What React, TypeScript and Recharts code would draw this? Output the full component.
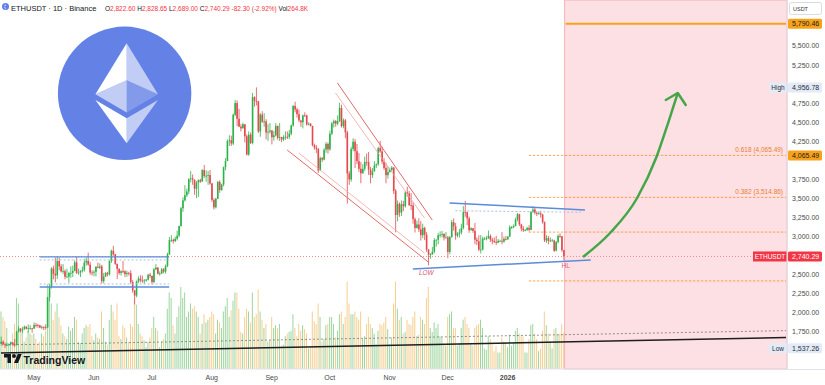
import React from 'react';
import {
  ComposedChart,
  Bar,
  Line,
  XAxis,
  YAxis,
  ReferenceLine,
  ReferenceArea,
  ReferenceDot,
  Cell,
} from 'recharts';

// daily candles, Apr 14 2025 -> Jan 30 2026 (open = previous close)
const FIRST_OPEN = 1595;

const closes = [
  // Apr
  1622, 1588, 1577, 1583, 1589, 1613, 1587, 1579, 1755, 1795, 1769, 1786, 1820, 1793, 1799, 1799, 1794,
  // May
  1842, 1840, 1835, 1808, 1816, 1815, 1810, 2205, 2345, 2582, 2514, 2492, 2680, 2610, 2545, 2548, 2474, 2476, 2523, 2525,
  2551, 2663, 2526, 2530, 2551, 2565, 2662, 2683, 2634, 2530, 2528,
  // Jun
  2539, 2605, 2593, 2610, 2417, 2478, 2525, 2508, 2680, 2815, 2770, 2643, 2578, 2524, 2547, 2546, 2510, 2525, 2520, 2406,
  2296, 2228, 2415, 2450, 2426, 2418, 2424, 2436, 2502, 2486,
  // Jul
  2405, 2572, 2595, 2514, 2518, 2572, 2542, 2614, 2770, 2955, 2958, 2942, 2972, 3014, 3140, 3372, 3476, 3543, 3592, 3755,
  3765, 3746, 3628, 3707, 3743, 3724, 3873, 3795, 3799, 3808, 3698,
  // Aug
  3482, 3385, 3497, 3717, 3612, 3684, 3910, 3992, 4255, 4264, 4222, 4598, 4752, 4545, 4442, 4420, 4474, 4316, 4076, 4337,
  4229, 4830, 4780, 4775, 4380, 4600, 4508, 4512, 4365, 4376, 4392,
  // Sep
  4305, 4328, 4450, 4296, 4306, 4273, 4306, 4310, 4308, 4350, 4458, 4714, 4668, 4605, 4525, 4500, 4590, 4589, 4470, 4480,
  4450, 4200, 4168, 4152, 3868, 4030, 4010, 4140, 4216, 4145,
  // Oct
  4350, 4485, 4515, 4482, 4515, 4688, 4450, 4525, 4368, 3830, 3750, 4150, 4245, 4120, 3990, 3890, 3830, 3890, 3980, 3978,
  3880, 3808, 3855, 3935, 3950, 4160, 4118, 3985, 3900, 3806, 3848,
  // Nov
  3875, 3905, 3600, 3285, 3430, 3315, 3425, 3400, 3580, 3565, 3415, 3410, 3230, 3115, 3160, 3095, 3020, 3115, 3025, 2830,
  2765, 2770, 2805, 2955, 2960, 3020, 3025, 3035, 2990, 2990,
  // Dec
  2800, 2995, 3190, 3135, 3015, 3040, 3055, 3115, 3325, 3320, 3240, 3085, 3110, 3075, 2960, 2940, 2830, 2830, 2975, 2975,
  2980, 3010, 2960, 2945, 2930, 2920, 2945, 2945, 2935, 2970, 2965,
  // Jan
  3000, 3125, 3125, 3140, 3225, 3295, 3160, 3105, 3085, 3085, 3115, 3090, 3325, 3355, 3315, 3300, 3305, 3290, 3190, 2950,
  2980, 2945, 2950, 2950, 2815, 2930, 3010, 3005, 2822.6, 2740.29,
];

const highs = [
  1690, 1640, 1612, 1610, 1602, 1625, 1615, 1660, 1765, 1830, 1800, 1815, 1835, 1825, 1850, 1840, 1805,
  1875, 1870, 1855, 1845, 1835, 1825, 1850, 2210, 2380, 2600, 2620, 2725, 2738, 2725, 2640, 2640, 2570, 2580, 2540, 2610,
  2620, 2690, 2735, 2580, 2560, 2610, 2710, 2725, 2790, 2670, 2560,
  2560, 2615, 2660, 2650, 2630, 2525, 2535, 2540, 2690, 2830, 2880, 2775, 2645, 2585, 2560, 2680, 2560, 2555, 2540, 2560,
  2430, 2295, 2425, 2480, 2495, 2490, 2445, 2445, 2510, 2525,
  2490, 2590, 2640, 2600, 2545, 2590, 2590, 2635, 2790, 2995, 3020, 2975, 3000, 3080, 3145, 3390, 3515, 3675, 3630, 3765,
  3860, 3815, 3750, 3730, 3750, 3760, 3885, 3940, 3870, 3860, 3875,
  3705, 3505, 3510, 3730, 3740, 3695, 3920, 4030, 4275, 4330, 4325, 4615, 4790, 4785, 4675, 4475, 4495, 4475, 4340, 4380,
  4365, 4885, 4840, 4956.78, 4780, 4620, 4645, 4620, 4540, 4475, 4490,
  4400, 4385, 4490, 4460, 4490, 4310, 4330, 4380, 4380, 4400, 4470, 4725, 4770, 4690, 4665, 4525, 4600, 4630, 4600, 4500,
  4490, 4455, 4220, 4200, 4160, 4050, 4045, 4160, 4240, 4235,
  4390, 4505, 4535, 4530, 4590, 4755, 4730, 4550, 4545, 4390, 3860, 4180, 4290, 4280, 4215, 4095, 3980, 3950, 4050, 4090,
  4110, 3915, 3900, 3990, 3960, 4180, 4255, 4180, 4030, 3970, 3920,
  3905, 3925, 3915, 3625, 3475, 3450, 3475, 3470, 3600, 3655, 3600, 3570, 3450, 3250, 3210, 3240, 3205, 3170, 3130, 3060,
  2840, 2785, 2865, 2980, 2965, 3050, 3070, 3075, 3045, 3060,
  3010, 3010, 3220, 3240, 3180, 3060, 3100, 3170, 3400, 3470, 3330, 3265, 3125, 3115, 3180, 2990, 3020, 3020, 3000, 2995,
  3010, 3080, 3030, 2985, 2990, 3010, 2970, 2960, 3060, 3000, 3010,
  3010, 3150, 3140, 3160, 3250, 3310, 3300, 3170, 3140, 3100, 3130, 3150, 3335, 3400, 3380, 3320, 3330, 3340, 3300, 3200,
  3020, 3010, 2990, 2970, 2960, 2945, 3030, 3045, 3010, 2828.65,
];

const lows = [
  1590, 1580, 1540, 1565, 1572, 1585, 1570, 1555, 1575, 1745, 1745, 1740, 1780, 1785, 1740, 1780, 1740,
  1795, 1810, 1805, 1800, 1785, 1775, 1780, 1805, 2155, 2320, 2440, 2400, 2445, 2560, 2530, 2510, 2440, 2460, 2395, 2460,
  2470, 2545, 2510, 2500, 2470, 2530, 2540, 2620, 2620, 2500, 2490,
  2480, 2480, 2585, 2575, 2385, 2390, 2470, 2480, 2490, 2655, 2750, 2630, 2445, 2500, 2490, 2520, 2470, 2475, 2490, 2380,
  2265, 2110, 2205, 2390, 2400, 2395, 2380, 2410, 2425, 2460,
  2375, 2390, 2560, 2505, 2490, 2510, 2520, 2515, 2600, 2760, 2930, 2910, 2930, 2950, 2990, 3130, 3325, 3460, 3520, 3555,
  3710, 3680, 3550, 3505, 3520, 3705, 3720, 3770, 3720, 3680, 3680,
  3455, 3355, 3370, 3490, 3575, 3600, 3660, 3870, 3990, 4190, 4190, 4200, 4580, 4450, 4440, 4380, 4420, 4235, 4065, 4060,
  4215, 4210, 4705, 4720, 4360, 4310, 4490, 4440, 4275, 4255, 4350,
  4210, 4260, 4315, 4270, 4255, 4240, 4255, 4270, 4280, 4280, 4330, 4440, 4630, 4560, 4500, 4440, 4420, 4570, 4455, 4460,
  4445, 4185, 4140, 4095, 3835, 3875, 3980, 4000, 4100, 4090,
  4125, 4330, 4430, 4440, 4460, 4505, 4430, 4420, 4290, 3435, 3680, 3720, 4120, 3900, 3950, 3850, 3700, 3830, 3860, 3930,
  3810, 3700, 3770, 3855, 3900, 3930, 4100, 3950, 3875, 3700, 3760,
  3840, 3850, 3560, 3057, 3200, 3260, 3270, 3335, 3380, 3525, 3400, 3350, 3170, 3055, 3105, 3060, 2950, 2980, 2955, 2800,
  2623, 2710, 2760, 2780, 2870, 2900, 2990, 2990, 2950, 2975,
  2718, 2770, 2985, 3080, 2960, 2990, 2990, 3030, 3095, 3260, 3150, 3050, 3080, 3050, 2900, 2890, 2810, 2780, 2820, 2955,
  2950, 2970, 2930, 2900, 2915, 2890, 2915, 2930, 2900, 2920, 2950,
  2960, 2995, 3100, 3110, 3135, 3200, 3140, 3070, 3060, 3070, 3080, 3070, 3085, 3310, 3290, 3270, 3290, 3250, 3170, 2930,
  2920, 2900, 2930, 2935, 2800, 2810, 2910, 2985, 2800, 2689,
];

// volume, thousands of ETH
const volumes = [
  420, 380, 350, 300, 180, 200, 260, 330, 520, 480, 300, 280, 200, 230, 280, 260, 250,
  260, 220, 180, 200, 260, 240, 280, 620, 560, 480, 360, 420, 480, 380, 320, 260, 240, 220, 310, 280,
  300, 380, 360, 200, 190, 260, 300, 320, 310, 330, 240,
  210, 260, 230, 220, 420, 300, 200, 180, 360, 470, 420, 360, 480, 240, 220, 320, 300, 230, 200, 330,
  310, 520, 470, 330, 260, 240, 210, 160, 200, 230,
  300, 380, 300, 280, 160, 200, 220, 260, 440, 560, 520, 320, 260, 380, 460, 600, 520, 560, 380, 420,
  480, 440, 460, 420, 380, 260, 330, 400, 340, 360, 380,
  420, 400, 260, 360, 340, 300, 420, 460, 520, 380, 430, 500, 560, 560, 440, 270, 260, 380, 440, 420,
  340, 560, 380, 400, 580, 420, 360, 300, 330, 200, 210,
  380, 300, 320, 300, 330, 170, 180, 240, 260, 270, 280, 400, 300, 240, 330, 280, 320, 290, 260, 150,
  160, 420, 350, 330, 480, 380, 200, 220, 320, 330,
  380, 380, 330, 230, 280, 400, 420, 330, 380, 640, 480, 400, 400, 420, 380, 360, 420, 220, 240, 330,
  380, 330, 300, 260, 180, 280, 330, 320, 340, 380, 290,
  180, 230, 480, 640, 440, 360, 380, 260, 270, 360, 330, 320, 380, 420, 240, 250, 380, 360, 330, 520,
  600, 300, 270, 340, 300, 330, 240, 230, 180, 170,
  380, 400, 420, 300, 300, 170, 190, 300, 360, 380, 330, 300, 180, 170, 300, 320, 330, 360, 300, 150,
  140, 240, 220, 180, 130, 170, 120, 120, 230, 200, 190,
  160, 250, 170, 190, 280, 300, 260, 240, 240, 120, 120, 220, 320, 330, 260, 220, 130, 150, 280, 420,
  320, 260, 200, 150, 290, 300, 250, 260, 330, 265,
];

// slots are days from Apr 14 2025; the last ones are empty future space
const SLOTS = 407;
const MONTH_TICKS = [17, 48, 78, 109, 140, 170, 201, 231, 262];
const MONTH_LABELS = ['May', 'Jun', 'Jul', 'Aug', 'Sep', 'Oct', 'Nov', 'Dec', '2026'];
const PRICE_TICKS = [1750, 2000, 2250, 2500, 3000, 3250, 3500, 3750, 4250, 4500, 4750, 5250, 5500];

// fib levels drawn right of the triangle
const FIB_LEVELS = [4065.49, 3514.86, 3060, 2420];
const FIB_TEXT = ['0.618 (4,065.49)', '0.382 (3,514.86)', '', ''];

// projected path (green arrow)
const ARROW_SLOTS = [301, 315, 329, 339, 345, 350];
const ARROW_PRICES = [2734, 3048, 3507, 4045, 4490, 4884];

const UP = '#2db24a';
const DOWN = '#e5484d';
const RED = '#f23645';
const FIB = '#f5861c';

const rows: any[] = Array.from({ length: SLOTS }, (_, i) => {
  if (i >= closes.length) return { i };
  const o = i === 0 ? FIRST_OPEN : closes[i - 1];
  const c = closes[i];
  const h = Math.max(highs[i], o, c);
  const l = Math.min(lows[i], o, c);
  return { i, o, h, l, c, range: [l, h], vol: volumes[i] };
});
ARROW_SLOTS.forEach((s, k) => {
  rows[s].arrow = ARROW_PRICES[k];
});

const fmt = (v: number) =>
  v.toLocaleString('en-US', { minimumFractionDigits: 2, maximumFractionDigits: 2 });

const Candle = (props: any) => {
  const { x, y, width, height, payload } = props;
  if (!payload || payload.c == null || !isFinite(y) || !isFinite(height)) return null;
  const { o, h, l, c } = payload;
  const color = c >= o ? UP : DOWN;
  const top0 = Math.min(y, y + height);
  const hh = Math.abs(height);
  const span = h - l || 1;
  const yOf = (v: number) => top0 + ((h - v) / span) * hh;
  const cx = x + width / 2;
  const bTop = yOf(Math.max(o, c));
  const bBot = yOf(Math.min(o, c));
  return (
    <g>
      <line x1={cx} x2={cx} y1={top0} y2={top0 + hh} stroke={color} strokeWidth={0.8} />
      <rect x={cx - 0.8} y={bTop} width={1.6} height={Math.max(bBot - bTop, 0.8)} fill={color} />
    </g>
  );
};

const ArrowHead = (props: any) => {
  const { cx, cy, payload } = props;
  if (!payload || payload.i !== ARROW_SLOTS[ARROW_SLOTS.length - 1] || cy == null) return null;
  return (
    <polyline
      points={`${cx - 12},${cy + 7} ${cx},${cy} ${cx + 8},${cy + 12}`}
      fill="none"
      stroke="#45a649"
      strokeWidth={2.5}
      strokeLinecap="round"
      strokeLinejoin="round"
    />
  );
};

const AxisTag = (props: any) => {
  const { viewBox, text, bg, fg, tag, tagW = 18 } = props;
  if (!viewBox) return null;
  const right = viewBox.x + viewBox.width;
  const y = viewBox.y;
  return (
    <g>
      {tag ? (
        <g>
          <rect x={right - tagW} y={y - 5} width={tagW} height={10} fill={bg} />
          <text x={right - tagW / 2} y={y + 2.4} textAnchor="middle" fontSize={6.5} fill={fg}>
            {tag}
          </text>
        </g>
      ) : null}
      <rect x={right + 1} y={y - 5} width={34} height={10} rx={1.5} fill={bg} />
      <text x={right + 5} y={y + 2.5} fontSize={7} fill={fg}>
        {text}
      </text>
    </g>
  );
};

const FibLabel = ({ viewBox, text }: any) =>
  viewBox && text ? (
    <text x={viewBox.x + viewBox.width - 3} y={viewBox.y - 3} textAnchor="end" fontSize={6.5} fill="#ec7d2e">
      {text}
    </text>
  ) : null;

const TextMark = ({ viewBox, text, italic }: any) =>
  viewBox ? (
    <text
      x={viewBox.x + viewBox.width / 2}
      y={viewBox.y + viewBox.height / 2 + 2.3}
      textAnchor="middle"
      fontSize={6.5}
      fontStyle={italic ? 'italic' : 'normal'}
      fill="#dd5576"
    >
      {text}
    </text>
  ) : null;

const DateTick = ({ x, y, payload }: any) => {
  const k = MONTH_TICKS.indexOf(payload.value);
  const label = k >= 0 ? MONTH_LABELS[k] : '';
  return (
    <text x={x} y={y + 10.5} textAnchor="middle" fontSize={7} fill="#4a4a4a" fontWeight={label === '2026' ? 700 : 400}>
      {label}
    </text>
  );
};

const Overlay = () => {
  const ohlc = [
    ['O', '2,822.60'],
    [' H', '2,828.65'],
    [' L', '2,689.00'],
    [' C', '2,740.29'],
    [' ', '-82.30 (-2.92%)'],
    [' Vol', '264.8K'],
  ];
  return (
    <svg width={825} height={385} style={{ position: 'absolute', left: 0, top: 0, pointerEvents: 'none' }}>
      {/* header */}
      <g transform="translate(2,3) scale(0.22)">
        <circle cx={16} cy={16} r={16} fill="#627EEA" />
        <path fill="#fff" d="M16.498 4L9 16.22l7.498-3.35z" />
        <path fill="#fff" d="M16.498 27.995v-6.028L9 17.616z" />
      </g>
      <text x={11} y={10.5} fontSize={7.5} fill="#131722">
        ETHUSDT · 1D · Binance
      </text>
      <text x={105} y={10.5} fontSize={6.5} fill="#131722">
        {ohlc.map(([k, v], n) => (
          <tspan key={n}>
            {k}
            <tspan fill={RED}>{v}</tspan>
          </tspan>
        ))}
      </text>

      {/* ethereum logo */}
      <g transform="translate(57.9,26.6) scale(4.17)">
        <circle cx={16} cy={16} r={16} fill="#6481e6" />
        <g fill="#fff">
          <path fillOpacity={0.602} d="M16.498 4v8.87l7.497 3.35z" />
          <path d="M16.498 4L9 16.22l7.498-3.35z" />
          <path fillOpacity={0.602} d="M16.498 21.968v6.027L24 17.616z" />
          <path d="M16.498 27.995v-6.028L9 17.616z" />
          <path fillOpacity={0.2} d="M16.498 20.573l7.497-4.353-7.497-3.348z" />
          <path fillOpacity={0.602} d="M9 16.22l7.498 4.353v-7.701z" />
        </g>
      </g>

      {/* TradingView mark */}
      <g transform="translate(4,352) scale(0.5)" fill="#131722">
        <path d="M14 22H7V11H0V4h14v18z" />
        <circle cx={20} cy={8} r={4} />
        <path d="M28 22h-8l7.5-18h8L28 22z" />
      </g>
      <text x={23.5} y={363.5} fontSize={10.5} fontWeight={700} fill="#131722">
        TradingView
      </text>

      {/* price scale header */}
      <rect x={789.5} y={2.5} width={32} height={12} rx={2} fill="#fff" stroke="#d9dbe0" />
      <text x={793} y={10.5} fontSize={5.5} fill="#333">
        USDT
      </text>
      <line x1={787} x2={825} y1={369.5} y2={369.5} stroke="#e0e3eb" />
    </svg>
  );
};

export default function App() {
  return (
    <div
      style={{
        position: 'fixed',
        left: 0,
        top: 0,
        width: 825,
        height: 385,
        background: '#fff',
        fontFamily: '"Liberation Sans", Arial, sans-serif',
      }}
    >
      {/* volume pane */}
      <div style={{ position: 'absolute', left: 0, top: 0 }}>
        <ComposedChart width={825} height={385} data={rows} margin={{ top: 0, right: 38, bottom: 16, left: 0 }} barCategoryGap="25%">
          <XAxis dataKey="i" hide />
          <YAxis hide domain={[0, 2700]} allowDataOverflow />
          <Bar dataKey="vol" isAnimationActive={false}>
            {rows.map((r) => (
              <Cell key={r.i} fill={r.c >= r.o ? '#5cb860' : '#efae45'} fillOpacity={0.62} />
            ))}
          </Bar>
        </ComposedChart>
      </div>

      {/* price pane */}
      <div style={{ position: 'absolute', left: 0, top: 0 }}>
        <ComposedChart width={825} height={385} data={rows} margin={{ top: 0, right: 0, bottom: 0, left: 0 }} barCategoryGap="10%">
          <XAxis
            dataKey="i"
            type="category"
            ticks={MONTH_TICKS}
            interval={0}
            tick={<DateTick />}
            tickLine={false}
            tickSize={0}
            tickMargin={0}
            axisLine={{ stroke: '#e0e3eb' }}
            height={16}
          />
          <YAxis
            orientation="right"
            type="number"
            width={38}
            domain={[1265, 6103]}
            allowDataOverflow
            ticks={PRICE_TICKS}
            tickFormatter={fmt}
            tick={{ fontSize: 7, fill: '#4a4a4a' }}
            tickLine={false}
            tickSize={3}
            axisLine={{ stroke: '#e0e3eb' }}
          />

          <ReferenceArea x1={292} x2={406} fill="#fde0e3" fillOpacity={1} stroke="#f4b0b7" strokeWidth={1} />

          {/* long-term lines */}
          <ReferenceLine segment={[{ x: 0, y: 1580 }, { x: 406, y: 1768 }]} stroke="#777" strokeWidth={0.8} strokeDasharray="2 2" />
          <ReferenceLine segment={[{ x: 0, y: 1475 }, { x: 406, y: 1677 }]} stroke="#1e1e1e" strokeWidth={1.5} />

          {/* current price */}
          <ReferenceLine y={2740.29} stroke="#f08a8f" strokeDasharray="1 2" />

          {/* fib / targets */}
          <ReferenceLine segment={[{ x: 292, y: 5790.46 }, { x: 406, y: 5790.46 }]} stroke="#f7a21b" strokeWidth={2} />
          {FIB_LEVELS.map((lv, k) => (
            <ReferenceLine
              key={`fib${k}`}
              segment={[{ x: 273, y: lv }, { x: 406, y: lv }]}
              stroke={FIB}
              strokeWidth={1}
              strokeOpacity={0.72}
              strokeDasharray="2.5 1.5"
            />
          ))}
          {FIB_LEVELS.map((lv, k) => (
            <ReferenceLine
              key={`fibl${k}`}
              segment={[{ x: 273, y: lv }, { x: 406, y: lv }]}
              stroke="none"
              label={<FibLabel text={FIB_TEXT[k]} />}
            />
          ))}

          {/* early range box */}
          <ReferenceLine segment={[{ x: 20, y: 2734 }, { x: 87, y: 2734 }]} stroke="#5b8bd9" strokeWidth={1.3} />
          <ReferenceLine segment={[{ x: 20, y: 2695 }, { x: 87, y: 2695 }]} stroke="#a9c0ea" strokeDasharray="2 2" />
          <ReferenceLine segment={[{ x: 20, y: 2340 }, { x: 87, y: 2340 }]} stroke="#5b8bd9" strokeWidth={1.3} />
          <ReferenceLine segment={[{ x: 20, y: 2380 }, { x: 87, y: 2380 }]} stroke="#a9c0ea" strokeDasharray="2 2" />

          {/* falling channel */}
          <ReferenceLine segment={[{ x: 174, y: 5015 }, { x: 223, y: 3219 }]} stroke="#e26a6a" />
          <ReferenceLine segment={[{ x: 173, y: 4884 }, { x: 219, y: 3245 }]} stroke="#f0a4a4" strokeWidth={0.8} />
          <ReferenceLine segment={[{ x: 148, y: 4137 }, { x: 221, y: 2668 }]} stroke="#e26a6a" />
          <ReferenceLine segment={[{ x: 154, y: 4097 }, { x: 219, y: 2786 }]} stroke="#f0a4a4" strokeWidth={0.8} />

          {/* triangle */}
          <ReferenceLine segment={[{ x: 232, y: 3442 }, { x: 302, y: 3350 }]} stroke="#5b8bd9" strokeWidth={1.5} />
          <ReferenceLine segment={[{ x: 235, y: 3340 }, { x: 300, y: 3320 }]} stroke="#a9c0ea" strokeDasharray="2 2" />
          <ReferenceLine segment={[{ x: 213, y: 2576 }, { x: 305, y: 2694 }]} stroke="#5b8bd9" strokeWidth={1.5} />

          <Bar dataKey="range" isAnimationActive={false} shape={(p: any) => <Candle {...p} />} />

          <Line
            dataKey="arrow"
            type="monotone"
            connectNulls
            stroke="#45a649"
            strokeWidth={2.5}
            dot={(p: any) => <ArrowHead key={p.index} {...p} />}
            activeDot={false}
            isAnimationActive={false}
          />

          <ReferenceDot x={220} y={2524} r={1} fill="none" stroke="none" label={<TextMark text="LOW" italic />} />
          <ReferenceDot x={292} y={2616} r={1} fill="none" stroke="none" label={<TextMark text="HL" />} />

          {/* price scale tags */}
          <ReferenceLine y={5790.46} stroke="none" label={<AxisTag text="5,790.46" bg="#f7a21b" fg="#1a1a1a" />} />
          <ReferenceLine y={4956.78} stroke="none" label={<AxisTag text="4,956.78" tag="High" bg="#e3ebf8" fg="#2a2e39" />} />
          <ReferenceLine y={4065.49} stroke="none" label={<AxisTag text="4,065.49" bg="#f7a21b" fg="#1a1a1a" />} />
          <ReferenceLine y={2740.29} stroke="none" label={<AxisTag text="2,740.29" tag="ETHUSDT" tagW={34} bg={RED} fg="#fff" />} />
          <ReferenceLine y={1537.26} stroke="none" label={<AxisTag text="1,537.26" tag="Low" bg="#e3ebf8" fg="#2a2e39" />} />
        </ComposedChart>
      </div>

      <Overlay />
    </div>
  );
}
